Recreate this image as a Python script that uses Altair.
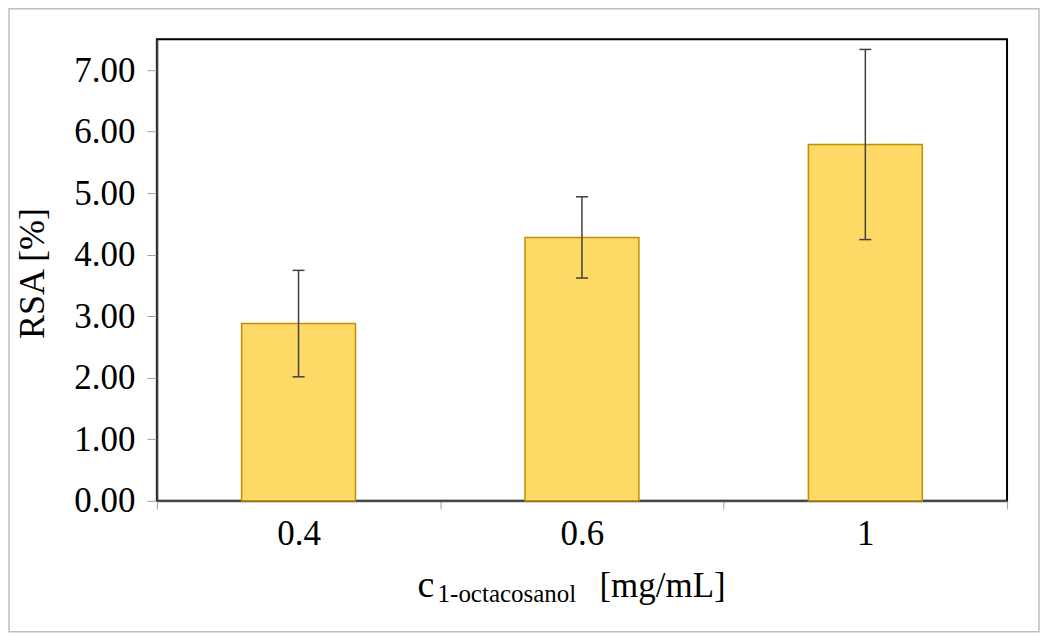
import altair as alt
import pandas as pd

categories = ["0.4", "0.6", "1"]
rsa_values = [2.88, 4.28, 5.79]
rsa_errors = [0.865, 0.66, 1.545]
y_ticks = [0, 1, 2, 3, 4, 5, 6, 7]

FONT = "Liberation Serif"

df = pd.DataFrame({
    "conc": categories,
    "rsa": rsa_values,
    "lo": [v - e for v, e in zip(rsa_values, rsa_errors)],
    "hi": [v + e for v, e in zip(rsa_values, rsa_errors)],
})

x_enc = alt.X(
    "conc:N",
    sort=categories,
    scale=alt.Scale(paddingInner=0, paddingOuter=0),
    axis=alt.Axis(
        title=None,
        labelAngle=0,
        labelFont=FONT,
        labelFontSize=35,
        labelColor="#000000",
        labelBaseline="alphabetic",
        labelPadding=36,
        tickBand="extent",
        tickSize=8,
        tickColor="#a0a0a0",
        tickWidth=1,
        domainColor="#505050",
        domainWidth=2,
    ),
)

y_scale = alt.Scale(domain=[0, 7.5], nice=False)

bars = alt.Chart(df).mark_bar(
    size=114, fill="#FFD966", stroke="#BF9000", strokeWidth=1.5
).encode(
    x=x_enc,
    y=alt.Y(
        "rsa:Q",
        scale=y_scale,
        axis=alt.Axis(
            title="RSA [%]",
            values=y_ticks,
            format=".2f",
            grid=False,
            labelFont=FONT,
            labelFontSize=35,
            labelColor="#000000",
            labelPadding=12,
            tickSize=10,
            tickColor="#a0a0a0",
            tickWidth=1,
            domainColor="#404040",
            domainWidth=2,
            titleFont=FONT,
            titleFontSize=36,
            titleFontWeight="normal",
            titleColor="#000000",
            titleAngle=270,
            titleX=-113,
            titleY=234,
            titleAlign="center",
            titleBaseline="alphabetic",
        ),
    ),
)

err_rule = alt.Chart(df).mark_rule(color="#404040", strokeWidth=1.5).encode(
    x=alt.X("conc:N", sort=categories),
    y=alt.Y("lo:Q", scale=y_scale),
    y2="hi:Q",
)

cap_lo = alt.Chart(df).mark_tick(
    orient="horizontal", size=12, thickness=1.5, color="#404040", opacity=1
).encode(
    x=alt.X("conc:N", sort=categories),
    y=alt.Y("lo:Q", scale=y_scale),
)

cap_hi = alt.Chart(df).mark_tick(
    orient="horizontal", size=12, thickness=1.5, color="#404040", opacity=1
).encode(
    x=alt.X("conc:N", sort=categories),
    y=alt.Y("hi:Q", scale=y_scale),
)

t_c = alt.Chart(pd.DataFrame({"t": ["c"]})).mark_text(
    font=FONT, fontSize=38, align="left", baseline="alphabetic", color="#000000"
).encode(text="t:N", x=alt.value(261), y=alt.value(558))

t_sub = alt.Chart(pd.DataFrame({"t": ["1-octacosanol"]})).mark_text(
    font=FONT, fontSize=25, align="left", baseline="alphabetic", color="#000000"
).encode(text="t:N", x=alt.value(281), y=alt.value(563))

t_unit = alt.Chart(pd.DataFrame({"t": ["[mg/mL]"]})).mark_text(
    font=FONT, fontSize=35, align="left", baseline="alphabetic", color="#000000"
).encode(text="t:N", x=alt.value(443), y=alt.value(558))

border = alt.Chart(pd.DataFrame({"a": [0]})).mark_rect(
    fill=None, stroke="#bfbfbf", strokeWidth=1.5
).encode(
    x=alt.value(-148), x2=alt.value(883), y=alt.value(-30.5), y2=alt.value(593)
)

chart = alt.layer(
    bars, err_rule, cap_lo, cap_hi, t_c, t_sub, t_unit, border
).properties(
    width=851,
    height=462,
    autosize=alt.AutoSizeParams(type="none"),
    padding={"left": 149, "top": 31, "right": 35, "bottom": 135},
    background="#ffffff",
).configure_view(
    stroke="#000000", strokeWidth=2
)

chart.save("out.html", embed_options={"renderer": "svg", "actions": False})
